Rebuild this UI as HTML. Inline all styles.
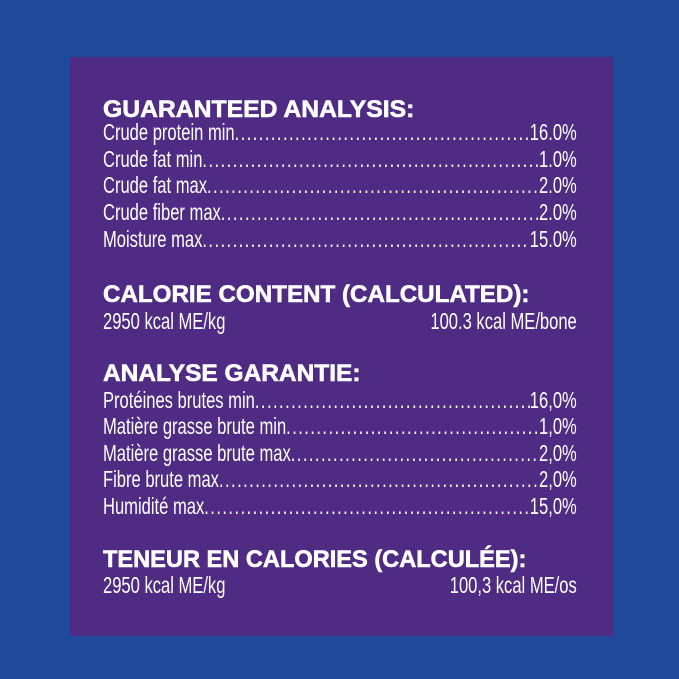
<!DOCTYPE html>
<html><head><style>
body{margin:0;width:679px;height:679px;background:#1f4a9b;position:relative;overflow:hidden;font-family:"Liberation Sans",sans-serif;color:#fff}
.panel{position:absolute;left:70px;top:57px;width:543px;height:579px;background:#4f2b84}
.h{position:absolute;left:103px;font-weight:bold;font-size:24px;line-height:24px;white-space:nowrap;transform:scaleX(1.03);transform-origin:left;-webkit-text-stroke:0.6px #fff}
.r{position:absolute;left:103px;width:474px;height:26px;line-height:26px}
.in{width:658px;transform:scaleX(0.72);transform-origin:left;display:flex;font-size:23px;white-space:nowrap}
.d{flex:1;overflow:hidden;letter-spacing:2px}
.s{flex:1}
</style></head><body>
<div class="panel"></div>
<div class="h" style="top:98px">GUARANTEED ANALYSIS:</div>
<div class="r" style="top:119px"><div class="in"><span>Crude protein min</span><span class="d">..............................................................................................................</span><span>16.0%</span></div></div>
<div class="r" style="top:146px"><div class="in"><span>Crude fat min</span><span class="d">..............................................................................................................</span><span>1.0%</span></div></div>
<div class="r" style="top:172px"><div class="in"><span>Crude fat max</span><span class="d">..............................................................................................................</span><span>2.0%</span></div></div>
<div class="r" style="top:199px"><div class="in"><span>Crude fiber max</span><span class="d">..............................................................................................................</span><span>2.0%</span></div></div>
<div class="r" style="top:226px"><div class="in"><span>Moisture max</span><span class="d">..............................................................................................................</span><span>15.0%</span></div></div>
<div class="h" style="top:283px;transform:scaleX(1.007)">CALORIE CONTENT (CALCULATED):</div>
<div class="r" style="top:308px"><div class="in"><span>2950 kcal ME/kg</span><span class="s"></span><span>100.3 kcal ME/bone</span></div></div>
<div class="h" style="top:362px;transform:scaleX(1.02)">ANALYSE GARANTIE:</div>
<div class="r" style="top:387px"><div class="in"><span>Protéines brutes min</span><span class="d">..............................................................................................................</span><span>16,0%</span></div></div>
<div class="r" style="top:413px"><div class="in"><span>Matière grasse brute min</span><span class="d">..............................................................................................................</span><span>1,0%</span></div></div>
<div class="r" style="top:440px"><div class="in"><span>Matière grasse brute max</span><span class="d">..............................................................................................................</span><span>2,0%</span></div></div>
<div class="r" style="top:466px"><div class="in"><span>Fibre brute max</span><span class="d">..............................................................................................................</span><span>2,0%</span></div></div>
<div class="r" style="top:493px"><div class="in"><span>Humidité max</span><span class="d">..............................................................................................................</span><span>15,0%</span></div></div>
<div class="h" style="top:548px;transform:scaleX(0.983)">TENEUR EN CALORIES (CALCULÉE):</div>
<div class="r" style="top:572px"><div class="in"><span>2950 kcal ME/kg</span><span class="s"></span><span>100,3 kcal ME/os</span></div></div>
</body></html>
